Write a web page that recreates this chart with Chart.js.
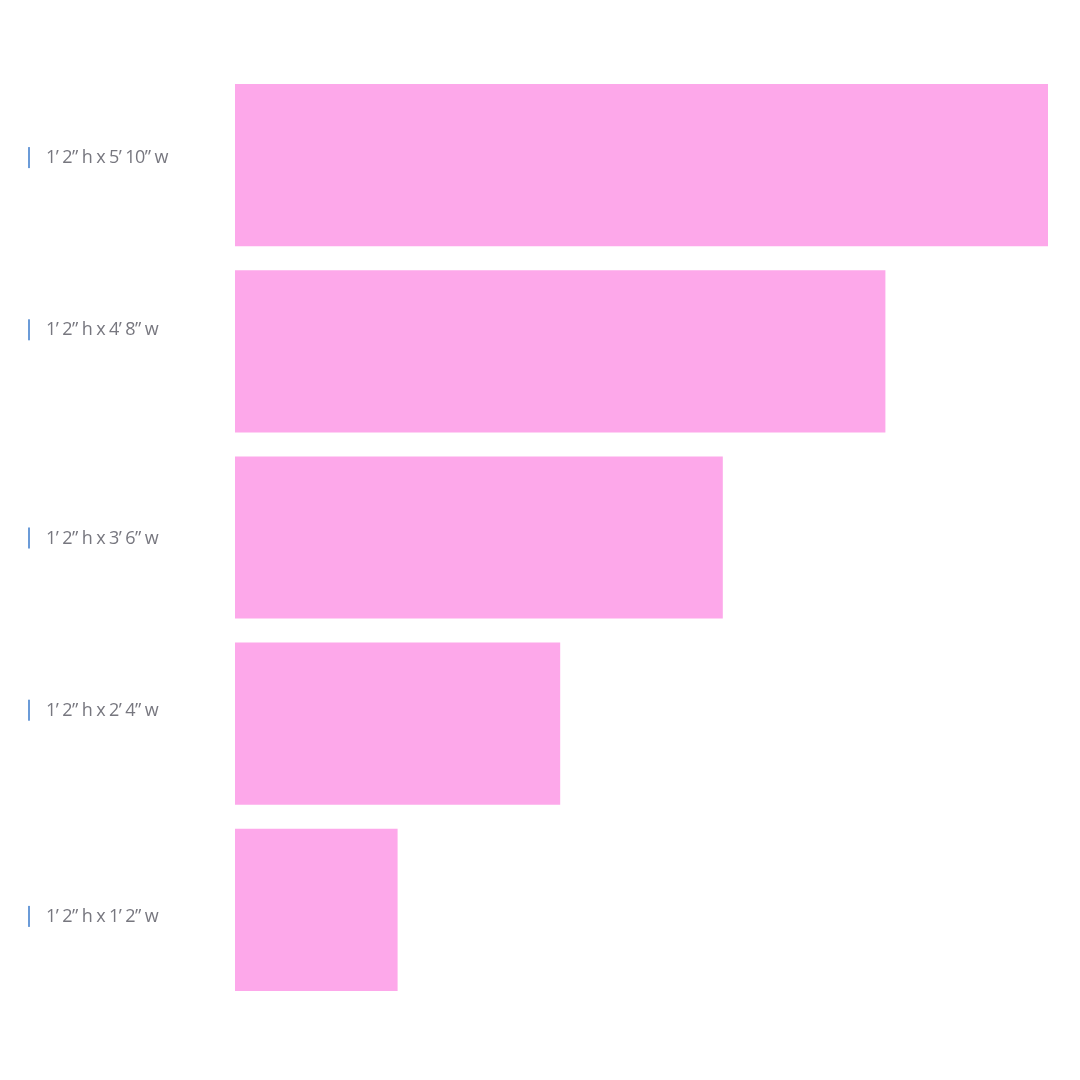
<!DOCTYPE html>
<html>
<head>
<meta charset="utf-8">
<script src="https://cdn.jsdelivr.net/npm/chart.js@4"></script>
<style>
  html, body { margin: 0; padding: 0; background: #fff; }
  #wrap { width: 1080px; height: 1080px; }
</style>
</head>
<body>
<div id="wrap"><canvas id="chart"></canvas></div>
<script>
var sizeLabels = ["1’ 2” h x 5’ 10” w", "1’ 2” h x 4’ 8” w", "1’ 2” h x 3’ 6” w", "1’ 2” h x 2’ 4” w", "1’ 2” h x 1’ 2” w"];
var widthInches = [70, 56, 42, 28, 14];

// labels sit a little off the bar centres in the original
var labelNudge = [-8, -22, 0, -14, 6];

var sideLabels = {
  id: "sideLabels",
  afterDraw: function (chart) {
    var ctx = chart.ctx;
    var yScale = chart.scales.y;
    ctx.save();
    ctx.font = "18px 'Open Sans'";
    ctx.letterSpacing = "-0.6px";
    ctx.textBaseline = "middle";
    ctx.textAlign = "left";
    sizeLabels.forEach(function (lbl, i) {
      var y = yScale.getPixelForValue(i) + labelNudge[i];
      ctx.fillStyle = "#6b9bd8";
      ctx.fillRect(28, y - 10, 2, 21);
      ctx.fillStyle = "#77777f";
      ctx.fillText(lbl, 46, y + 1);
    });
    ctx.restore();
  }
};

new Chart("chart", {
  type: "bar",
  data: {
    labels: sizeLabels,
    datasets: [{
      data: widthInches,
      backgroundColor: "#fda8ea",
      barPercentage: 1,
      categoryPercentage: 0.871
    }]
  },
  options: {
    indexAxis: "y",
    responsive: true,
    maintainAspectRatio: false,
    animation: false,
    layout: { padding: { left: 235, right: 32, top: 72, bottom: 77 } },
    scales: {
      x: { display: false, min: 0, max: 70 },
      y: { display: false }
    },
    plugins: {
      legend: { display: false },
      tooltip: { enabled: false }
    }
  },
  plugins: [sideLabels]
});
</script>
</body>
</html>
